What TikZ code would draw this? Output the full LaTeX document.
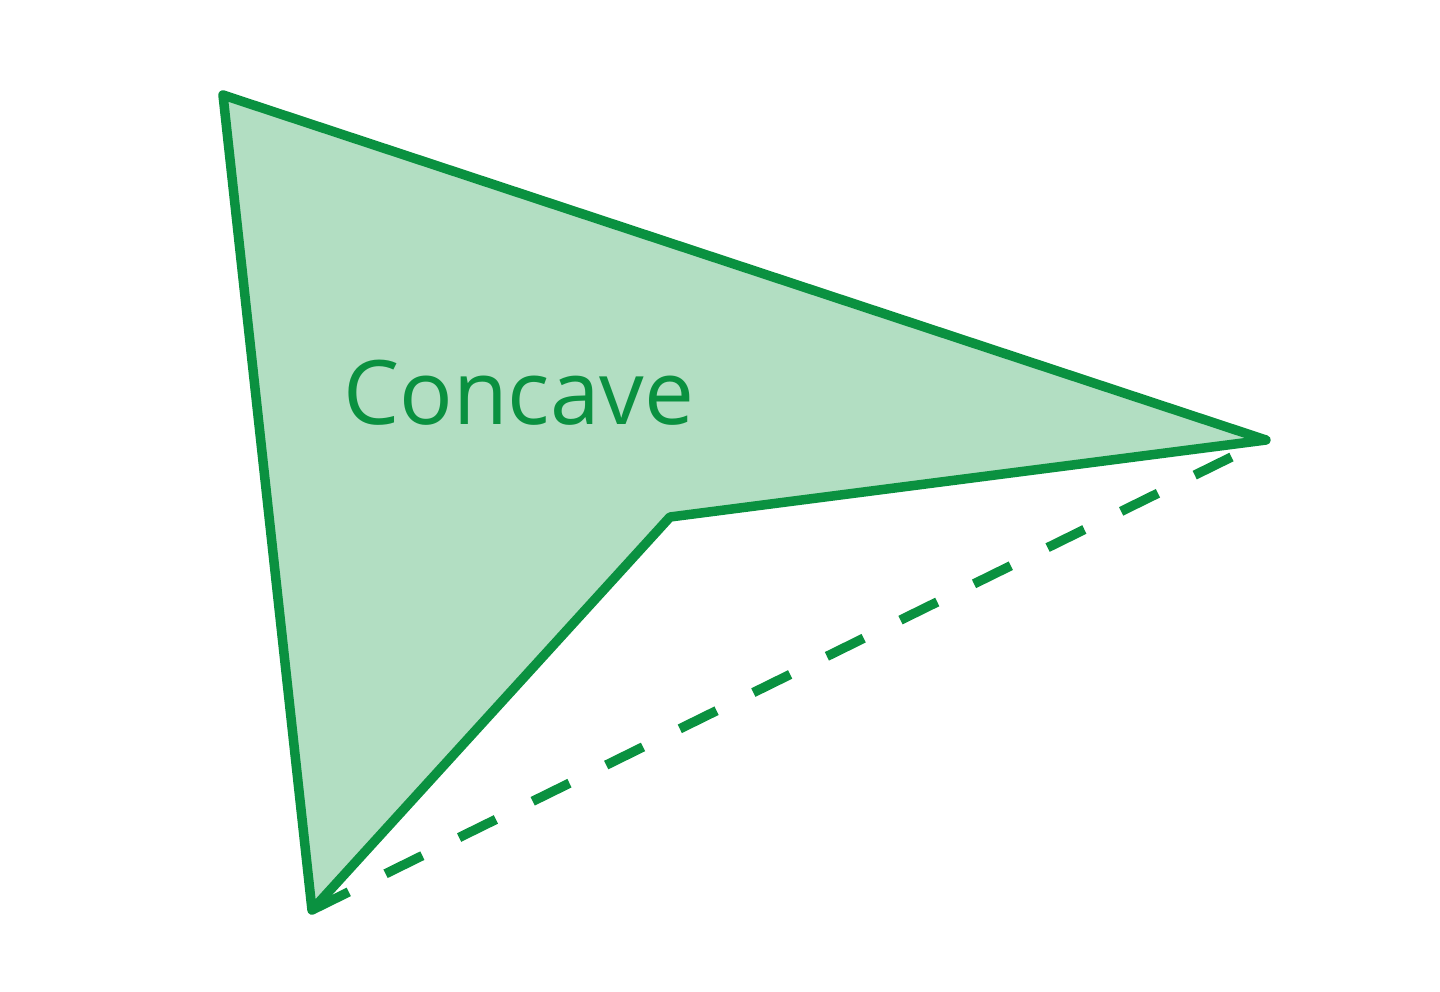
\documentclass[tikz,border=0pt]{standalone}
\usepackage{fontspec}
\setmainfont{Open Sans}
\definecolor{edgegreen}{RGB}{10,145,64}
\definecolor{fillgreen}{RGB}{178,222,194}
\begin{document}
\begin{tikzpicture}[x=1pt,y=-1pt,
  outline/.style={draw=edgegreen,line width=9.5pt,line join=round,fill=fillgreen},
  chord/.style={draw=edgegreen,line width=9.5pt,dash pattern=on 41pt off 41pt,shorten >=30pt},
  label/.style={text=edgegreen,font=\fontsize{89}{100}\selectfont,inner sep=0pt,anchor=base west}]
\useasboundingbox (0,0) rectangle (1440,991);
\coordinate (A) at (223,95);
\coordinate (B) at (1266,440);
\coordinate (C) at (670,517);
\coordinate (D) at (312,910);
\draw[chord] (D) -- (B);
\draw[outline] (A) -- (B) -- (C) -- (D) -- cycle;
\node[label] (t) at (343,424) {Concave};
\end{tikzpicture}
\end{document}
